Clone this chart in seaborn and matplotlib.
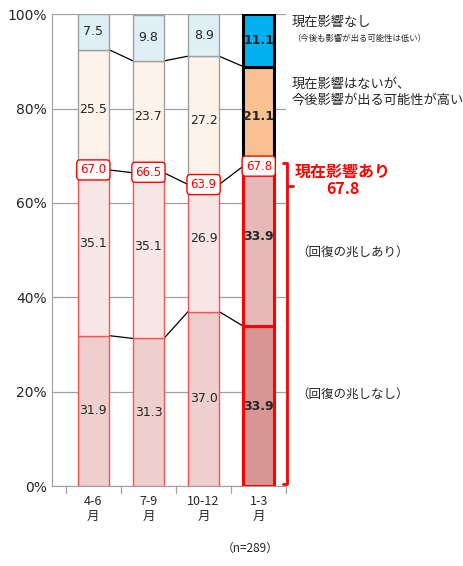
import numpy as np
import matplotlib
matplotlib.use('Agg')
from matplotlib import pyplot as plt
import seaborn as sns

sns.set_style('white')
plt.rcParams['font.family'] = ['Noto Sans CJK JP', 'DejaVu Sans']

cats = ['4-6\n月', '7-9\n月', '10-12\n月', '1-3\n月']
no_recover = [31.9, 31.3, 37.0, 33.9]
recover = [35.1, 35.1, 26.9, 33.9]
future = [25.5, 23.7, 27.2, 21.1]
none = [7.5, 9.8, 8.9, 11.1]
affected = [67.0, 66.5, 63.9, 67.8]

layers = [no_recover, recover, future, none]
light = ['#EDCFCD', '#F6E7E6', '#FDF3EA', '#DEEFF5']
dark = ['#D99594', '#E6B9B8', '#F9C090', '#00B0F0']

fig = plt.figure(figsize=(4.64, 5.66), dpi=100)
ax = fig.add_axes([0.112, 0.141, 0.505, 0.834])
x = np.arange(len(cats))
w = 0.56
bottom = np.zeros(len(cats))
for k, vals in enumerate(layers):
    vals = np.array(vals)
    for i in range(len(cats)):
        last = i == len(cats) - 1
        fc = dark[k] if last else light[k]
        if k < 2:
            ec, lw = ('red', 2.2) if last else ('#FF5050', 1.0)
        else:
            ec, lw = ('black', 2.2) if last else ('#A0A0A0', 1.0)
        ax.bar(x[i], vals[i], w, bottom=bottom[i], color=fc, edgecolor=ec, linewidth=lw, zorder=3)
        yc = bottom[i] + vals[i] / 2 + (2 if k == 1 else 0)
        ax.text(x[i], yc, f'{vals[i]:.1f}', ha='center', va='center', fontsize=9,
                fontweight='bold' if last else 'normal', zorder=5, family='DejaVu Sans')
    top = bottom + vals
    if k < 3:
        for i in range(len(cats) - 1):
            ax.plot([x[i] + w / 2, x[i + 1] - w / 2], [top[i], top[i + 1]], color='black', lw=0.9, zorder=2)
    bottom = top

for i, v in enumerate(affected):
    ax.text(x[i], v, f'{v:.1f}', ha='center', va='center', fontsize=8.5, color='red', zorder=6,
            family='DejaVu Sans',
            bbox=dict(boxstyle='round,pad=0.3', fc='white', ec='red', lw=1))

ax.set_xlim(-0.75, 3.5)
ax.set_ylim(0, 100)
ax.set_yticks(np.arange(0, 101, 20))
ax.set_yticklabels([f'{t}%' for t in range(0, 101, 20)], fontsize=10, family='DejaVu Sans')
ax.set_xticks(x)
ax.set_xticklabels(cats, fontsize=9)
ax.yaxis.grid(True, color='#A0A0A0', lw=0.9, zorder=0)
for s in ['top', 'right']:
    ax.spines[s].set_visible(False)
for s in ['left', 'bottom']:
    ax.spines[s].set_color('#A0A0A0')
ax.tick_params(axis='x', length=0, pad=6)
ax.tick_params(axis='y', length=0)
for xv in np.arange(-0.5, 3.6, 1.0):
    ax.plot([xv, xv], [0, -1.5], color='#A0A0A0', lw=0.9, clip_on=False)

# bracket
bx = 3.52
ax.plot([bx - 0.08, bx, bx, bx - 0.08], [68.5, 68.5, 0.5, 0.5], color='red', lw=2, clip_on=False)
ax.plot([bx, bx + 0.1], [63.5, 63.5], color='red', lw=2, clip_on=False)

ax.text(3.6, 98.3, '現在影響なし', fontsize=9.5, va='center', clip_on=False)
ax.text(3.6, 94.8, '（今後も影響が出る可能性は低い）', fontsize=6, va='center', clip_on=False)
ax.text(3.6, 83.5, '現在影響はないが、\n今後影響が出る可能性が高い', fontsize=9.5, va='center',
        linespacing=1.3, clip_on=False)
ax.text(4.52, 64.8, '現在影響あり\n67.8', fontsize=11.5, color='red', fontweight='bold',
        ha='center', va='center', linespacing=1.1, clip_on=False)
ax.text(3.68, 49.5, '（回復の兆しあり）', fontsize=9, va='center', clip_on=False)
ax.text(3.68, 19.5, '（回復の兆しなし）', fontsize=9, va='center', clip_on=False)
fig.text(0.54, 0.025, '（n=289）', fontsize=8.5, ha='center')

plt.savefig('out.png', dpi=100, facecolor='w')
